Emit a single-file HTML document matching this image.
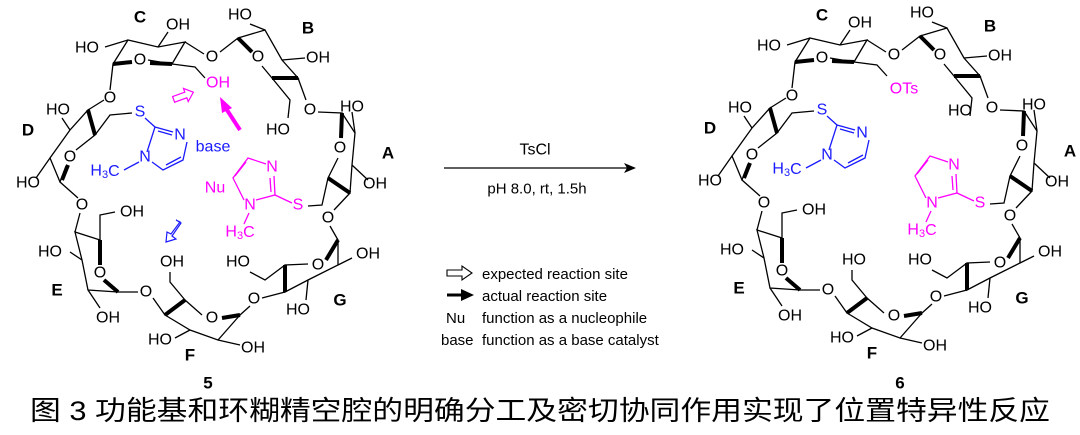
<!DOCTYPE html>
<html><head><meta charset="utf-8"><style>
html,body{margin:0;padding:0;background:#fff}
svg{display:block}
text{font-family:"Liberation Sans","Noto Sans CJK SC",sans-serif}
.t{font-size:16px;fill:#000;text-anchor:middle;dominant-baseline:central}
.b{font-weight:bold;font-size:17px}
.bl{fill:#1a1aff}.pk{fill:#ff00ff}
</style></head><body>
<svg width="1080" height="435" viewBox="0 0 1080 435" xmlns="http://www.w3.org/2000/svg">
<defs>
<g id="sk" fill="none" stroke="#000" stroke-width="1.3">
<polyline points="110,90 113,64 132,62"/><polyline points="148,60 172,64 185,42 158,47 128,40 113,64"/><line x1="185" y1="42" x2="204" y2="54"/><line x1="128" y1="40" x2="105" y2="47"/><line x1="158" y1="47" x2="168" y2="32"/>
<line x1="113" y1="64" x2="132" y2="62" stroke-width="4"/><line x1="150" y1="63" x2="172" y2="64" stroke-width="4"/>
<polyline points="172,64 195,67 205,78"/>
<polyline points="220,52 238,38 250,52"/><polyline points="262,66 272,78 298,78 282,60 265,30 238,38"/><line x1="298" y1="78" x2="306" y2="100"/><line x1="265" y1="30" x2="250" y2="24"/><line x1="282" y1="60" x2="305" y2="58"/>
<line x1="238" y1="38" x2="252" y2="52" stroke-width="4"/><line x1="272" y1="78" x2="298" y2="78" stroke-width="4"/>
<polyline points="272,78 290,100 288,118"/>
<polyline points="318,112 342,113 341,138"/><polyline points="338,158 328,178 350,193 352,165 355,133 342,113"/><line x1="355" y1="133" x2="352" y2="112"/><line x1="352" y1="165" x2="368" y2="180"/><line x1="350" y1="193" x2="334" y2="210"/>
<line x1="342" y1="113" x2="341" y2="138" stroke-width="4"/><line x1="328" y1="178" x2="350" y2="193" stroke-width="4"/>
<polyline points="328,178 322,205 308,206"/>
<polyline points="330,226 338,240 326,258"/><polyline points="308,264 285,265 285,292 308,280 338,265 338,240"/><line x1="338" y1="265" x2="352" y2="258"/><line x1="308" y1="280" x2="306" y2="300"/><line x1="285" y1="292" x2="262" y2="298"/>
<line x1="338" y1="240" x2="326" y2="260" stroke-width="4"/><line x1="285" y1="265" x2="285" y2="292" stroke-width="4"/>
<polyline points="285,265 265,280 250,272"/>
<polyline points="250,306 240,315 222,318"/><polyline points="202,315 185,300 165,315 190,330 218,340 240,315"/><line x1="218" y1="340" x2="240" y2="345"/><line x1="190" y1="330" x2="175" y2="338"/><line x1="165" y1="315" x2="153" y2="298"/>
<line x1="240" y1="315" x2="222" y2="318" stroke-width="4"/><line x1="185" y1="300" x2="165" y2="315" stroke-width="4"/>
<polyline points="185,300 170,282 170,272"/>
<polyline points="138,292 118,292 104,280"/><polyline points="100,265 100,240 75,232 82,260 88,290 118,292"/><line x1="88" y1="290" x2="100" y2="308"/><line x1="82" y1="260" x2="70" y2="252"/><line x1="75" y1="232" x2="80" y2="213"/>
<line x1="118" y1="292" x2="104" y2="280" stroke-width="4"/><line x1="100" y1="240" x2="100" y2="265" stroke-width="4"/>
<polyline points="100,240 100,215 115,212"/>
<polyline points="78,198 60,182 66,166"/><polyline points="76,150 95,135 88,110 70,130 50,158 60,182"/><line x1="50" y1="158" x2="36" y2="178"/><line x1="70" y1="130" x2="62" y2="118"/><line x1="88" y1="110" x2="104" y2="100"/>
<line x1="62" y1="180" x2="68" y2="165" stroke-width="4"/><line x1="95" y1="135" x2="88" y2="110" stroke-width="4"/>
<polyline points="95,135 110,115 132,113"/>
</g>
<g id="imb" fill="none" stroke="#1a1aff" stroke-width="1.3">
<polyline points="145,118 155,127 173,132"/><polyline points="155,127 147,152"/><line x1="158" y1="131" x2="172" y2="135"/>
<polyline points="187,142 183,160 163,170 152,162"/><line x1="181" y1="157" x2="166" y2="165"/><line x1="139" y1="162" x2="124" y2="170"/>
</g>
<g id="imp" fill="none" stroke="#ff00ff" stroke-width="1.3">
<polyline points="292,203 275,195 256,200"/><polyline points="275,195 274,176"/><line x1="271" y1="192" x2="270" y2="178"/>
<polyline points="266,164 248,158 233,178 244,200"/><line x1="246" y1="162" x2="235" y2="176"/><line x1="249" y1="213" x2="244" y2="224"/>
</g>
</defs>
<use href="#sk"/><use href="#imb"/><use href="#imp"/>
<g transform="translate(682,-2)"><use href="#sk"/><use href="#imb"/><use href="#imp"/></g>

<g>
<text class="t b" x="140" y="17">C</text><text class="t" x="178" y="25">OH</text><text class="t" x="240" y="15">HO</text><text class="t b" x="308" y="28">B</text>
<text class="t" x="87" y="48">HO</text><text class="t" x="140" y="60">O</text><text class="t" x="212" y="57">O</text><text class="t" x="258" y="57">O</text><text class="t" x="318" y="58">OH</text>
<text class="t pk" x="218" y="83">OH</text><text class="t" x="58" y="110">HO</text><text class="t bl" x="140" y="112">S</text><text class="t" x="110" y="98">O</text>
<text class="t" x="278" y="130">HO</text><text class="t" x="310" y="110">O</text><text class="t" x="352" y="107">HO</text>
<text class="t b" x="28" y="130">D</text><text class="t bl" x="180" y="135">N</text><text class="t bl" x="213" y="147">base</text>
<text class="t" x="70" y="157">O</text><text class="t" x="340" y="148">O</text><text class="t b" x="388" y="153">A</text>
<text class="t bl" x="105" y="171">H<tspan font-size="11" dy="4">3</tspan><tspan dy="-4">C</tspan></text><text class="t bl" x="145" y="157">N</text>
<text class="t pk" x="272" y="167">N</text><text class="t pk" x="215" y="188">Nu</text><text class="t" x="28" y="183">HO</text><text class="t" x="375" y="184">OH</text>
<text class="t pk" x="298" y="205">S</text><text class="t" x="82" y="205">O</text><text class="t" x="132" y="212">OH</text><text class="t pk" x="250" y="205">N</text>
<text class="t pk" x="240" y="232">H<tspan font-size="11" dy="4">3</tspan><tspan dy="-4">C</tspan></text><text class="t" x="328" y="218">O</text>
<text class="t" x="50" y="252">HO</text><text class="t" x="238" y="262">HO</text><text class="t" x="368" y="254">OH</text><text class="t" x="172" y="262">OH</text>
<text class="t" x="100" y="273">O</text><text class="t" x="318" y="265">O</text><text class="t b" x="57" y="290">E</text><text class="t" x="146" y="292">O</text>
<text class="t" x="254" y="299">O</text><text class="t b" x="340" y="300">G</text><text class="t" x="298" y="310">HO</text><text class="t" x="108" y="318">OH</text>
<text class="t" x="212" y="318">O</text><text class="t" x="160" y="340">HO</text><text class="t b" x="190" y="355">F</text><text class="t" x="253" y="348">OH</text>
<text class="t b" x="208" y="383">5</text>
</g>
<polygon points="173,93 186,93 186,89 194,96 186,103 186,99 173,99" fill="none" stroke="#ff00ff" stroke-width="1.2" transform="rotate(-20 183 96)"/>
<line x1="240" y1="130" x2="227" y2="110" stroke="#ff00ff" stroke-width="4"/><polygon points="220,97 232,108 222,113" fill="#ff00ff"/>
<polygon points="176,220 181,223 172,236 176,239 166,242 167,232 171,234 180,222" fill="none" stroke="#1a1aff" stroke-width="1.2"/>

<g transform="translate(682,-2)">
<text class="t b" x="140" y="17">C</text><text class="t" x="178" y="25">OH</text><text class="t" x="240" y="15">HO</text><text class="t b" x="308" y="28">B</text>
<text class="t" x="87" y="48">HO</text><text class="t" x="140" y="60">O</text><text class="t" x="212" y="57">O</text><text class="t" x="258" y="57">O</text><text class="t" x="318" y="58">OH</text>
<text class="t pk" x="222" y="91">OTs</text><text class="t" x="58" y="110">HO</text><text class="t bl" x="140" y="112">S</text><text class="t" x="110" y="98">O</text>
<text class="t" x="278" y="113">HO</text><text class="t" x="310" y="110">O</text><text class="t" x="352" y="107">HO</text>
<text class="t b" x="28" y="130">D</text><text class="t bl" x="180" y="135">N</text>
<text class="t" x="70" y="157">O</text><text class="t" x="340" y="148">O</text><text class="t b" x="388" y="153">A</text>
<text class="t bl" x="105" y="171">H<tspan font-size="11" dy="4">3</tspan><tspan dy="-4">C</tspan></text><text class="t bl" x="145" y="157">N</text>
<text class="t pk" x="272" y="167">N</text><text class="t" x="28" y="183">HO</text><text class="t" x="375" y="184">OH</text>
<text class="t pk" x="298" y="205">S</text><text class="t" x="82" y="205">O</text><text class="t" x="132" y="212">OH</text><text class="t pk" x="250" y="205">N</text>
<text class="t pk" x="240" y="232">H<tspan font-size="11" dy="4">3</tspan><tspan dy="-4">C</tspan></text><text class="t" x="328" y="218">O</text>
<text class="t" x="50" y="252">HO</text><text class="t" x="238" y="262">HO</text><text class="t" x="368" y="254">OH</text><text class="t" x="172" y="262">HO</text>
<text class="t" x="100" y="273">O</text><text class="t" x="318" y="265">O</text><text class="t b" x="57" y="290">E</text><text class="t" x="146" y="292">O</text>
<text class="t" x="254" y="299">O</text><text class="t b" x="340" y="300">G</text><text class="t" x="298" y="310">HO</text><text class="t" x="108" y="318">OH</text>
<text class="t" x="212" y="318">O</text><text class="t" x="160" y="340">HO</text><text class="t b" x="190" y="355">F</text><text class="t" x="253" y="348">OH</text>
<text class="t b" x="218" y="385">6</text>
</g>

<line x1="444" y1="168" x2="628" y2="168" stroke="#000" stroke-width="1.3"/><polygon points="636,168 624,163 627,168 624,173" fill="#000"/>
<text class="t" x="535" y="150">TsCl</text><text class="t" x="537" y="189" style="font-size:15px">pH 8.0, rt, 1.5h</text>

<polygon points="447,270 462,270 462,266 472,273 462,280 462,276 447,276" fill="none" stroke="#000" stroke-width="1.1"/>
<line x1="447" y1="295" x2="462" y2="295" stroke="#000" stroke-width="3"/><polygon points="474,295 461,289 461,301" fill="#000"/>
<g style="font-size:15px" fill="#000">
<text x="482" y="279">expected reaction site</text>
<text x="482" y="301">actual reaction site</text>
<text x="446" y="323">Nu</text><text x="482" y="323">function as a nucleophile</text>
<text x="441" y="345">base</text><text x="482" y="345">function as a base catalyst</text>
</g>

<text x="30" y="420" textLength="1020" lengthAdjust="spacingAndGlyphs" style="font-size:27px" fill="#000">图 3 功能基和环糊精空腔的明确分工及密切协同作用实现了位置特异性反应</text>
</svg>
</body></html>
